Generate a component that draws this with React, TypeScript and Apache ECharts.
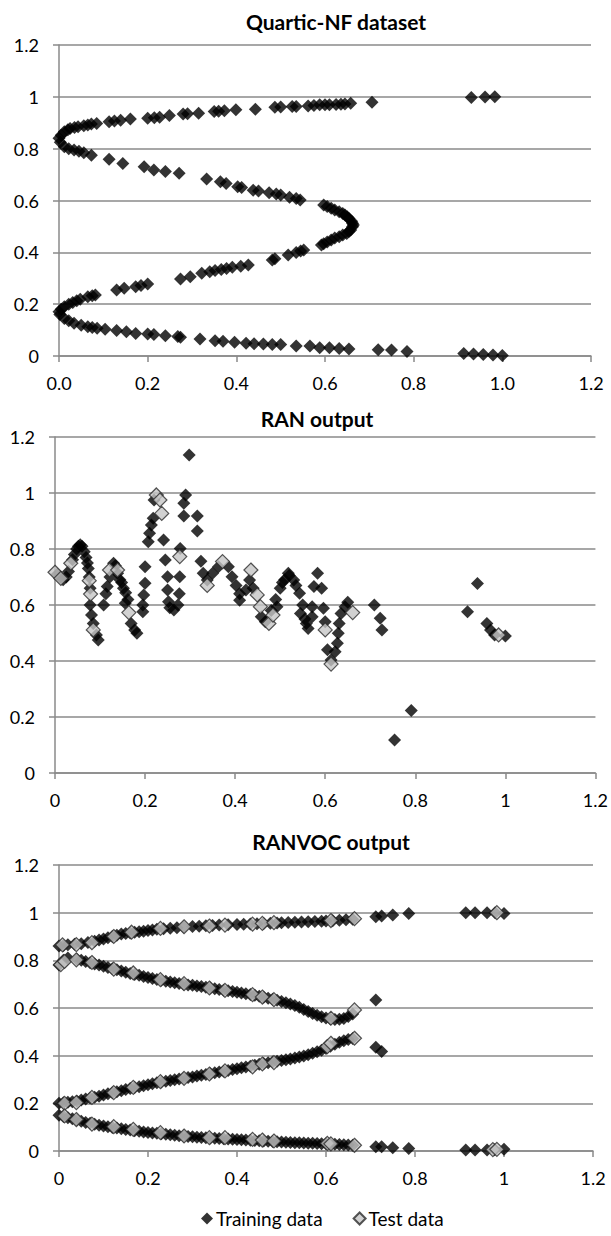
import React, { useEffect, useRef } from "react";
import * as echarts from "echarts";

type Pt = [number, number];

const chartTitles = ["Quartic-NF dataset", "RAN output", "RANVOC output"];
const seriesNames = ["Training data", "Test data"];
const axisMin = 0;
const axisMax = 1.2;
const axisStep = 0.2;

const quarticTraining: Pt[] = [
  [0, 0.84], [0.005, 0.852], [0.012, 0.865], [0.02, 0.873], [0.025, 0.878], [0.035, 0.882], [0.043, 0.885],
  [0.056, 0.888], [0.065, 0.891], [0.073, 0.895], [0.085, 0.897], [0.113, 0.904], [0.125, 0.907], [0.139, 0.91],
  [0.161, 0.914], [0.2, 0.917], [0.215, 0.919], [0.227, 0.921], [0.249, 0.928], [0.28, 0.934], [0.29, 0.935],
  [0.315, 0.937], [0.35, 0.943], [0.36, 0.944], [0.373, 0.946], [0.399, 0.95], [0.443, 0.952], [0.487, 0.96],
  [0.5, 0.961], [0.526, 0.963], [0.535, 0.963], [0.562, 0.965], [0.575, 0.967], [0.588, 0.969], [0.6, 0.969],
  [0.61, 0.969], [0.625, 0.97], [0.636, 0.971], [0.645, 0.972], [0.658, 0.975], [0.706, 0.979], [0.93, 0.997],
  [0.961, 0.999], [0.983, 1.0],
  [0.003, 0.825], [0.012, 0.807], [0.022, 0.8], [0.034, 0.795], [0.045, 0.79], [0.056, 0.784], [0.073, 0.775],
  [0.113, 0.759], [0.144, 0.743], [0.192, 0.73], [0.214, 0.718], [0.24, 0.712], [0.271, 0.705], [0.333, 0.683],
  [0.364, 0.672], [0.377, 0.666], [0.403, 0.653], [0.412, 0.65], [0.438, 0.64], [0.45, 0.637], [0.474, 0.63],
  [0.49, 0.625], [0.5, 0.621], [0.52, 0.613], [0.535, 0.608], [0.544, 0.602],
  [0.597, 0.583], [0.605, 0.577], [0.614, 0.57], [0.622, 0.563], [0.632, 0.557], [0.64, 0.55], [0.645, 0.544],
  [0.65, 0.537], [0.654, 0.531], [0.66, 0.52], [0.662, 0.512], [0.664, 0.505], [0.662, 0.499], [0.658, 0.486],
  [0.654, 0.48], [0.649, 0.473], [0.64, 0.467], [0.632, 0.46], [0.622, 0.455], [0.614, 0.448], [0.605, 0.44],
  [0.597, 0.433], [0.592, 0.428],
  [0.552, 0.409], [0.545, 0.405], [0.535, 0.399], [0.517, 0.39], [0.487, 0.375], [0.481, 0.37], [0.427, 0.351],
  [0.41, 0.346], [0.391, 0.342], [0.378, 0.338], [0.366, 0.334], [0.352, 0.33], [0.34, 0.325], [0.322, 0.319],
  [0.296, 0.306], [0.274, 0.297], [0.2, 0.278], [0.185, 0.272], [0.173, 0.267], [0.147, 0.261], [0.13, 0.255],
  [0.082, 0.235], [0.075, 0.232], [0.065, 0.229], [0.048, 0.219], [0.04, 0.213], [0.031, 0.206], [0.022, 0.2],
  [0.012, 0.19], [0.005, 0.18], [0, 0.171], [0.002, 0.16],
  [0.012, 0.145], [0.022, 0.136], [0.034, 0.126], [0.05, 0.119], [0.065, 0.113], [0.075, 0.11], [0.086, 0.107],
  [0.104, 0.103], [0.13, 0.098], [0.152, 0.094], [0.173, 0.087], [0.2, 0.085], [0.214, 0.083], [0.24, 0.078],
  [0.268, 0.075], [0.274, 0.072], [0.318, 0.066], [0.352, 0.059], [0.37, 0.057], [0.396, 0.053], [0.422, 0.049],
  [0.44, 0.047], [0.461, 0.046], [0.481, 0.044], [0.5, 0.044], [0.535, 0.039], [0.566, 0.039], [0.588, 0.032],
  [0.61, 0.032], [0.632, 0.029], [0.654, 0.027], [0.72, 0.024], [0.75, 0.023], [0.785, 0.017], [0.913, 0.01],
  [0.935, 0.008], [0.957, 0.006], [0.979, 0.004], [1.0, 0.002],
];

const ranTraining: Pt[] = [
  [0.005, 0.71], [0.012, 0.7], [0.018, 0.69], [0.025, 0.7], [0.03, 0.72], [0.039, 0.762], [0.043, 0.78],
  [0.048, 0.8], [0.052, 0.81], [0.056, 0.815], [0.06, 0.81], [0.065, 0.79], [0.069, 0.77], [0.072, 0.75],
  [0.074, 0.73], [0.076, 0.7], [0.078, 0.66], [0.078, 0.6], [0.081, 0.564], [0.085, 0.534], [0.092, 0.493],
  [0.096, 0.475], [0.108, 0.6], [0.113, 0.64], [0.116, 0.666], [0.122, 0.7], [0.13, 0.749], [0.134, 0.74],
  [0.139, 0.713], [0.144, 0.69], [0.148, 0.68], [0.152, 0.66], [0.157, 0.644], [0.156, 0.606], [0.162, 0.62],
  [0.169, 0.534], [0.177, 0.511], [0.182, 0.499], [0.195, 0.576], [0.195, 0.6], [0.197, 0.636], [0.2, 0.678],
  [0.2, 0.737], [0.207, 0.826], [0.21, 0.856], [0.214, 0.886], [0.218, 0.91], [0.22, 0.975], [0.241, 0.832],
  [0.245, 0.761], [0.25, 0.701], [0.25, 0.654], [0.252, 0.612], [0.255, 0.59], [0.264, 0.582], [0.273, 0.6],
  [0.276, 0.64], [0.277, 0.701], [0.278, 0.802], [0.286, 0.918], [0.286, 0.963], [0.29, 0.993], [0.298, 1.136],
  [0.316, 0.918], [0.316, 0.864], [0.324, 0.756], [0.329, 0.713], [0.338, 0.689], [0.35, 0.713], [0.363, 0.737],
  [0.385, 0.737], [0.393, 0.701], [0.402, 0.67], [0.41, 0.617], [0.41, 0.64], [0.424, 0.654], [0.432, 0.689],
  [0.44, 0.66], [0.458, 0.558], [0.467, 0.54], [0.48, 0.58], [0.49, 0.62], [0.493, 0.594], [0.5, 0.66],
  [0.505, 0.68], [0.51, 0.69], [0.518, 0.713], [0.52, 0.705], [0.53, 0.689], [0.535, 0.67], [0.543, 0.642],
  [0.55, 0.6], [0.545, 0.57], [0.555, 0.55], [0.558, 0.534], [0.562, 0.516], [0.571, 0.594], [0.571, 0.558],
  [0.575, 0.666], [0.583, 0.713], [0.592, 0.66], [0.596, 0.588], [0.6, 0.54], [0.605, 0.44], [0.613, 0.404],
  [0.622, 0.433], [0.627, 0.463], [0.629, 0.499], [0.631, 0.534], [0.635, 0.57], [0.644, 0.594], [0.65, 0.61],
  [0.709, 0.6], [0.722, 0.553], [0.726, 0.511], [0.754, 0.118], [0.791, 0.223], [0.916, 0.576], [0.938, 0.677],
  [0.959, 0.534], [0.967, 0.511], [0.976, 0.493], [1.0, 0.489],
];

const ranTest: Pt[] = [
  [0.0, 0.717], [0.013, 0.695], [0.035, 0.749], [0.076, 0.687], [0.079, 0.639], [0.085, 0.511], [0.121, 0.725],
  [0.139, 0.725], [0.164, 0.573], [0.225, 0.993], [0.233, 0.975], [0.237, 0.927], [0.277, 0.773], [0.338, 0.67],
  [0.372, 0.755], [0.435, 0.725], [0.449, 0.636], [0.456, 0.594], [0.475, 0.534], [0.484, 0.564], [0.6, 0.511],
  [0.613, 0.389], [0.661, 0.573], [0.985, 0.493],
];

const ranvocTraining: Pt[] = [
  [0, 0.86], [0.01, 0.862], [0.02, 0.865], [0.035, 0.867], [0.05, 0.87], [0.065, 0.875], [0.08, 0.88],
  [0.09, 0.885], [0.1, 0.89], [0.11, 0.895], [0.12, 0.9], [0.13, 0.905], [0.14, 0.91], [0.15, 0.913],
  [0.16, 0.915], [0.17, 0.918], [0.18, 0.92], [0.19, 0.922], [0.2, 0.925], [0.21, 0.927], [0.22, 0.93],
  [0.235, 0.932], [0.25, 0.935], [0.265, 0.937], [0.28, 0.94], [0.3, 0.942], [0.315, 0.943], [0.33, 0.945],
  [0.345, 0.946], [0.36, 0.948], [0.38, 0.949], [0.4, 0.95], [0.415, 0.951], [0.43, 0.952], [0.445, 0.953],
  [0.46, 0.955], [0.475, 0.956], [0.49, 0.957], [0.5, 0.958], [0.515, 0.959], [0.53, 0.96], [0.545, 0.961],
  [0.56, 0.962], [0.575, 0.963], [0.59, 0.964], [0.6, 0.965], [0.615, 0.966], [0.63, 0.968], [0.645, 0.97],
  [0.66, 0.972], [0.712, 0.983], [0.725, 0.986], [0.75, 0.99], [0.786, 0.997], [0.914, 1.0], [0.935, 1.0],
  [0.962, 1.0], [0.98, 1.0], [1.0, 0.997],
  [0, 0.78], [0.01, 0.8], [0.02, 0.81], [0.04, 0.805], [0.05, 0.8], [0.06, 0.795], [0.07, 0.79], [0.08, 0.785],
  [0.09, 0.78], [0.1, 0.775], [0.11, 0.77], [0.12, 0.765], [0.13, 0.76], [0.14, 0.755], [0.15, 0.75],
  [0.16, 0.745], [0.17, 0.741], [0.18, 0.737], [0.19, 0.732], [0.2, 0.728], [0.21, 0.724], [0.22, 0.72],
  [0.23, 0.716], [0.24, 0.712], [0.25, 0.709], [0.26, 0.706], [0.27, 0.703], [0.28, 0.7], [0.29, 0.697],
  [0.3, 0.695], [0.31, 0.692], [0.32, 0.69], [0.33, 0.687], [0.34, 0.684], [0.35, 0.681], [0.36, 0.678],
  [0.37, 0.675], [0.38, 0.672], [0.39, 0.669], [0.4, 0.666], [0.41, 0.663], [0.42, 0.66], [0.43, 0.657],
  [0.44, 0.653], [0.45, 0.649], [0.46, 0.645], [0.47, 0.641], [0.48, 0.637], [0.49, 0.632], [0.5, 0.627],
  [0.51, 0.622], [0.52, 0.617], [0.53, 0.61], [0.54, 0.603], [0.55, 0.594], [0.56, 0.585], [0.57, 0.577],
  [0.58, 0.57], [0.59, 0.563], [0.6, 0.558], [0.61, 0.554], [0.62, 0.552], [0.63, 0.553], [0.64, 0.556],
  [0.65, 0.564], [0.66, 0.575], [0.712, 0.634],
  [0, 0.2], [0.01, 0.202], [0.02, 0.205], [0.03, 0.207], [0.04, 0.21], [0.05, 0.214], [0.06, 0.218],
  [0.07, 0.222], [0.08, 0.226], [0.09, 0.23], [0.1, 0.235], [0.11, 0.24], [0.12, 0.244], [0.13, 0.249],
  [0.14, 0.253], [0.15, 0.258], [0.16, 0.262], [0.17, 0.266], [0.18, 0.27], [0.19, 0.274], [0.2, 0.278],
  [0.21, 0.282], [0.22, 0.286], [0.23, 0.29], [0.24, 0.293], [0.25, 0.296], [0.26, 0.299], [0.27, 0.302],
  [0.28, 0.305], [0.29, 0.308], [0.3, 0.311], [0.31, 0.315], [0.32, 0.318], [0.33, 0.321], [0.34, 0.324],
  [0.35, 0.328], [0.36, 0.331], [0.37, 0.335], [0.38, 0.338], [0.39, 0.342], [0.4, 0.345], [0.41, 0.349],
  [0.42, 0.352], [0.43, 0.356], [0.44, 0.36], [0.45, 0.364], [0.46, 0.367], [0.47, 0.37], [0.48, 0.373],
  [0.49, 0.377], [0.5, 0.38], [0.51, 0.383], [0.52, 0.386], [0.53, 0.39], [0.54, 0.394], [0.55, 0.399],
  [0.56, 0.404], [0.57, 0.41], [0.58, 0.416], [0.59, 0.423], [0.6, 0.43], [0.61, 0.439], [0.62, 0.448],
  [0.63, 0.456], [0.64, 0.463], [0.65, 0.468], [0.66, 0.472], [0.712, 0.435], [0.725, 0.417],
  [0, 0.15], [0.01, 0.145], [0.02, 0.14], [0.03, 0.135], [0.04, 0.13], [0.05, 0.125], [0.06, 0.12],
  [0.07, 0.116], [0.08, 0.112], [0.09, 0.108], [0.1, 0.105], [0.11, 0.102], [0.12, 0.099], [0.13, 0.096],
  [0.14, 0.093], [0.15, 0.09], [0.16, 0.088], [0.17, 0.085], [0.18, 0.083], [0.19, 0.08], [0.2, 0.078],
  [0.21, 0.076], [0.22, 0.074], [0.23, 0.072], [0.24, 0.07], [0.25, 0.068], [0.26, 0.066], [0.27, 0.064],
  [0.28, 0.063], [0.29, 0.061], [0.3, 0.06], [0.31, 0.058], [0.32, 0.057], [0.33, 0.056], [0.34, 0.055],
  [0.35, 0.053], [0.36, 0.052], [0.37, 0.051], [0.38, 0.05], [0.39, 0.049], [0.4, 0.048], [0.41, 0.047],
  [0.42, 0.046], [0.43, 0.045], [0.44, 0.044], [0.45, 0.043], [0.46, 0.042], [0.47, 0.041], [0.48, 0.04],
  [0.49, 0.039], [0.5, 0.038], [0.51, 0.037], [0.52, 0.036], [0.53, 0.035], [0.54, 0.035], [0.55, 0.034],
  [0.56, 0.033], [0.57, 0.032], [0.58, 0.031], [0.59, 0.03], [0.6, 0.03], [0.61, 0.029], [0.62, 0.028],
  [0.63, 0.027], [0.64, 0.026], [0.65, 0.025], [0.66, 0.024], [0.712, 0.018], [0.725, 0.018], [0.75, 0.014],
  [0.786, 0.011], [0.914, 0.004], [0.935, 0.004], [0.962, 0.004], [0.979, 0.005], [1.0, 0.007],
];

const ranvocTest: Pt[] = [
  [0.008, 0.865], [0.039, 0.866], [0.074, 0.874], [0.123, 0.9], [0.163, 0.918], [0.228, 0.934], [0.281, 0.941],
  [0.338, 0.944], [0.373, 0.948], [0.435, 0.952], [0.457, 0.955], [0.483, 0.958], [0.611, 0.967], [0.664, 0.975],
  [0.984, 1.0],
  [0.004, 0.782], [0.0125, 0.795], [0.039, 0.802], [0.074, 0.791], [0.123, 0.763], [0.167, 0.747], [0.228, 0.719],
  [0.281, 0.702], [0.338, 0.684], [0.373, 0.674], [0.435, 0.656], [0.457, 0.646], [0.483, 0.635], [0.611, 0.557],
  [0.664, 0.592],
  [0.0125, 0.2], [0.039, 0.203], [0.074, 0.225], [0.123, 0.245], [0.167, 0.267], [0.228, 0.291], [0.281, 0.305],
  [0.338, 0.323], [0.373, 0.336], [0.435, 0.353], [0.457, 0.365], [0.483, 0.371], [0.603, 0.438], [0.611, 0.452],
  [0.664, 0.473],
  [0.0125, 0.147], [0.039, 0.132], [0.074, 0.113], [0.123, 0.102], [0.167, 0.091], [0.228, 0.077], [0.281, 0.063],
  [0.338, 0.056], [0.373, 0.056], [0.435, 0.049], [0.457, 0.046], [0.483, 0.042], [0.603, 0.032], [0.611, 0.03],
  [0.664, 0.024], [0.975, 0.006], [0.984, 0.007],
];

const FONT = "Lato, 'Open Sans', sans-serif";
const GRID_COLOR = "#8a8a8a";

export default function App() {
  const ref = useRef<HTMLDivElement>(null);

  useEffect(() => {
    if (!ref.current) return;
    document.body.style.margin = "0";
    const chart = echarts.init(ref.current, undefined, { renderer: "svg" });

    const grids = [
      { left: 59, top: 45, width: 532, height: 311 },
      { left: 55, top: 437, width: 541, height: 336 },
      { left: 59, top: 865, width: 534, height: 286 },
    ];
    const titlePos = [
      [336, 21],
      [317, 418],
      [331, 841],
    ];

    const general = (v: number) => String(Number(v.toFixed(1)));
    const oneDec = (v: number) => v.toFixed(1);

    const xAxes = grids.map((_, i) => ({
      type: "value",
      gridIndex: i,
      min: axisMin,
      max: axisMax,
      interval: axisStep,
      splitLine: { show: false },
      axisLine: { show: true, onZero: false, lineStyle: { color: GRID_COLOR, width: 1.5 } },
      axisTick: { show: true, inside: false, length: 6, lineStyle: { color: GRID_COLOR, width: 1.5 } },
      axisLabel: {
        margin: 18,
        color: "#000",
        fontSize: 18,
        fontFamily: FONT,
        formatter: i === 0 ? oneDec : general,
        showMinLabel: true,
        showMaxLabel: true,
      },
    }));

    const yAxes = grids.map((_, i) => ({
      type: "value",
      gridIndex: i,
      min: axisMin,
      max: axisMax,
      interval: axisStep,
      splitLine: { show: true, lineStyle: { color: GRID_COLOR, width: 1.5 } },
      axisLine: { show: true, onZero: false, lineStyle: { color: GRID_COLOR, width: 1.5 } },
      axisTick: { show: true, inside: false, length: 6, lineStyle: { color: GRID_COLOR, width: 1.5 } },
      axisLabel: {
        margin: 20,
        color: "#000",
        fontSize: 18,
        fontFamily: FONT,
        formatter: general,
        showMinLabel: true,
        showMaxLabel: true,
      },
    }));

    const trainStyle = { color: "#000000" };
    const testStyle = { color: "#c6c6c6", borderColor: "#2a2a2a", borderWidth: 1.2 };

    const mk = (name: string, data: Pt[], idx: number, test: boolean) => ({
      type: "scatter",
      name,
      xAxisIndex: idx,
      yAxisIndex: idx,
      data,
      symbol: "diamond",
      symbolSize: test ? 14 : 13,
      itemStyle: test ? testStyle : trainStyle,
      emphasis: { disabled: true },
    });

    chart.setOption({
      animation: false,
      backgroundColor: "#ffffff",
      grid: grids.map((g) => ({ ...g, containLabel: false })),
      xAxis: xAxes,
      yAxis: yAxes,
      legend: {
        data: seriesNames,
        left: 196,
        top: 1204,
        icon: "diamond",
        itemWidth: 12,
        itemHeight: 12,
        itemGap: 30,
        textStyle: { fontSize: 19, fontFamily: FONT, color: "#000", padding: [0, 0, 0, -2] },
      },
      graphic: chartTitles.map((t, i) => ({
        type: "text",
        x: titlePos[i][0],
        y: titlePos[i][1],
        style: {
          text: t,
          fill: "#000",
          font: `bold 21px ${FONT}`,
          align: "center",
          verticalAlign: "middle",
        },
      })),
      series: [
        mk(seriesNames[0], quarticTraining, 0, false),
        mk(seriesNames[0], ranTraining, 1, false),
        mk(seriesNames[1], ranTest, 1, true),
        mk(seriesNames[0], ranvocTraining, 2, false),
        mk(seriesNames[1], ranvocTest, 2, true),
      ],
    });

    return () => chart.dispose();
  }, []);

  return (
    <div
      ref={ref}
      style={{ position: "absolute", left: 0, top: 0, width: 611, height: 1236, background: "#fff" }}
    />
  );
}
